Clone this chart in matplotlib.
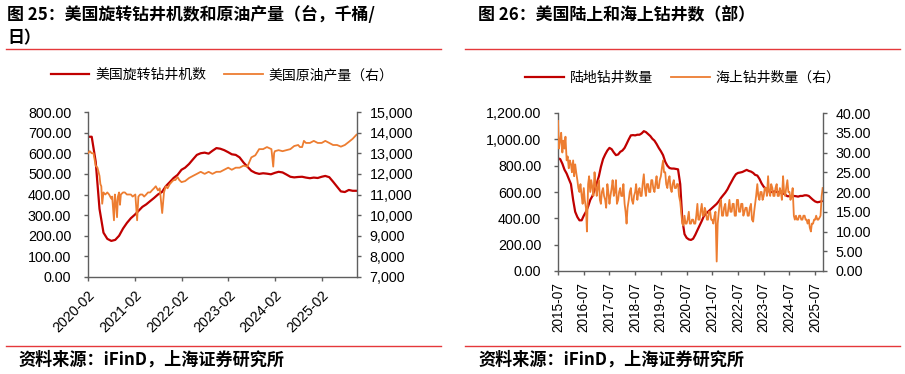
import pandas as pd
import matplotlib
matplotlib.use('Agg')
import matplotlib.pyplot as plt
from matplotlib.lines import Line2D
from matplotlib.ticker import FuncFormatter, MultipleLocator

plt.rcParams['font.family'] = ['Noto Sans CJK SC', 'DejaVu Sans']

# ---------------- Left chart data ----------------
rig_months = pd.date_range('2020-02-01', '2025-11-01', freq='MS')
rig_count = [
    680, 680, 560, 330, 215, 185, 175, 180, 200, 235, 262,            # 2020 Feb-Dec
    285, 302, 320, 340, 352, 368, 383, 400, 412, 440, 460, 480,       # 2021
    495, 520, 530, 548, 570, 592, 600, 603, 598, 612, 625, 622,       # 2022
    615, 605, 595, 592, 580, 555, 535, 515, 505, 500, 503, 501,       # 2023
    498, 505, 510, 507, 497, 486, 483, 485, 486, 482, 479, 482,       # 2024
    480, 486, 490, 484, 462, 438, 415, 412, 422, 418, 418,            # 2025 Jan-Nov
]

oil_dates = pd.to_datetime([
    '2020-02-01', '2020-02-15', '2020-03-01', '2020-03-15', '2020-04-01', '2020-04-15',
    '2020-05-01', '2020-05-08', '2020-05-15', '2020-05-22', '2020-06-01', '2020-06-15',
    '2020-07-01', '2020-07-15', '2020-08-01', '2020-08-08', '2020-08-22', '2020-08-29',
    '2020-09-05', '2020-09-15', '2020-09-22', '2020-10-01', '2020-10-08', '2020-10-15',
    '2020-11-01', '2020-11-15', '2020-12-01', '2020-12-15', '2021-01-01', '2021-01-15',
    '2021-02-05', '2021-02-19', '2021-03-01', '2021-03-15', '2021-04-01', '2021-04-15',
    '2021-05-01', '2021-05-15', '2021-06-01', '2021-06-15', '2021-07-01', '2021-07-15',
    '2021-08-01', '2021-08-15', '2021-09-03', '2021-09-10', '2021-09-17', '2021-10-01',
    '2021-10-15', '2021-11-01', '2021-11-15', '2021-12-01', '2021-12-15', '2022-01-01',
    '2022-01-15', '2022-02-01', '2022-03-01', '2022-04-01', '2022-05-01', '2022-06-01',
    '2022-07-01', '2022-08-01', '2022-09-01', '2022-10-01', '2022-11-01', '2022-12-01',
    '2023-01-01', '2023-02-01', '2023-03-01', '2023-04-01', '2023-05-01', '2023-06-01',
    '2023-07-01', '2023-08-01', '2023-09-01', '2023-10-01', '2023-11-01', '2023-12-01',
    '2024-01-05', '2024-01-19', '2024-01-26', '2024-02-01', '2024-03-01', '2024-04-01',
    '2024-05-01', '2024-06-01', '2024-07-01', '2024-08-01', '2024-08-15', '2024-09-01',
    '2024-09-15', '2024-10-01', '2024-11-01', '2024-12-01', '2025-01-01', '2025-02-01',
    '2025-03-01', '2025-04-01', '2025-05-01', '2025-06-01', '2025-07-01', '2025-08-01',
    '2025-09-01', '2025-10-01', '2025-10-31',
])
oil_prod = [
    13000, 13100, 13000, 13000, 12400, 12300,
    11900, 11500, 11400, 10550, 11100, 11000,
    11100, 11000, 10800, 10900, 9750, 11000,
    10700, 9900, 10900, 11100, 10500, 11000,
    11100, 11100, 11000, 11000, 11000, 10900,
    11000, 9750, 10900, 11000, 11000, 10900,
    11000, 11100, 11100, 11200, 11300, 11400,
    11200, 11300, 10100, 10600, 11100, 11400,
    11300, 11500, 11600, 11700, 11700, 11850,
    11700, 11600, 11650, 11800, 11900, 12000,
    12100, 12000, 12100, 12000, 12100, 12100,
    12200, 12300, 12200, 12300, 12300, 12400,
    12350, 12800, 12900, 13200, 13200, 13300,
    13200, 12350, 13000, 13100, 13150, 13100,
    13150, 13200, 13350, 13400, 13300, 13300,
    13600, 13500, 13500, 13600, 13500, 13500,
    13600, 13500, 13400, 13400, 13320, 13400,
    13550, 13700, 13900,
]

left_ticks = ['2020-02', '2021-02', '2022-02', '2023-02', '2024-02', '2025-02']

# ---------------- Right chart data ----------------
rig_months_r = pd.date_range('2015-07-01', '2025-10-01', freq='MS')
land_rigs = [
    856, 850, 815, 770, 740, 700,                                     # 2015 Jul-Dec
    660, 540, 450, 410, 385, 385, 420, 450, 490, 540, 570, 615,       # 2016
    665, 720, 790, 850, 885, 915, 935, 925, 900, 880, 885, 905,       # 2017
    915, 935, 965, 1000, 1030, 1032, 1030, 1035, 1035, 1045, 1062, 1055,  # 2018
    1040, 1025, 1005, 990, 965, 935, 910, 880, 830, 800, 782, 778,    # 2019
    778, 775, 772, 660, 390, 280, 252, 240, 236, 245, 275, 310,       # 2020
    345, 380, 415, 435, 450, 465, 480, 495, 510, 530, 555, 575,       # 2021
    595, 620, 650, 680, 710, 735, 745, 748, 752, 760, 768, 760,       # 2022
    755, 745, 730, 725, 700, 665, 640, 625, 610, 600, 600, 605,       # 2023
    600, 600, 595, 590, 580, 568, 568, 570, 570, 568, 565, 570,       # 2024
    570, 575, 575, 570, 555, 540, 528, 522, 525, 530,                 # 2025 Jan-Oct
]

# offshore rigs, read twice a month (1st and 15th)
offshore_dates = pd.date_range('2015-07-01', '2025-10-15', freq='SMS')
offshore_rigs = [
    38, 31, 33, 35, 30, 33, 31, 34, 28, 29, 26, 28,                                   # 2015 H2
    27, 25, 28, 24, 27, 25, 23, 21, 20, 22, 19, 17, 21, 18, 16, 10, 22, 24, 20, 23, 21, 19, 25, 22,  # 2016
    19, 21, 23, 18, 17, 20, 21, 19, 18, 16, 22, 20, 17, 19, 21, 23, 19, 20, 23, 17, 18, 20, 21, 19,  # 2017
    19, 22, 17, 15, 12, 16, 18, 20, 21, 18, 17, 19, 20, 22, 18, 20, 21, 19, 19, 22, 24.5, 21, 19, 22,  # 2018
    22, 20, 20, 23, 23, 21, 20, 22, 24, 21, 21, 23, 24, 26, 28, 25, 25, 22, 21, 23, 24, 21, 20, 22,  # 2019
    23, 21, 21, 22, 22, 19, 17.5, 15, 12, 11.5, 14, 12, 12, 13, 15, 12, 12, 13, 13, 12, 12, 14, 17, 13,  # 2020
    13, 15, 17, 14, 14, 16, 15, 13, 13, 15, 15, 13, 13, 12, 14, 15, 2.4, 12, 15, 17, 18, 14, 14, 16,  # 2021
    17, 14, 14, 16, 18, 15, 15, 17, 17, 14, 14, 18, 18, 15, 15, 17, 17, 14, 15, 16, 16, 14, 14, 16,  # 2022
    17, 13, 12.5, 15, 17, 19, 22, 19, 18, 20, 20, 18, 19, 21, 21, 19, 24, 20, 19, 22, 21, 19, 19, 21,  # 2023
    22, 19, 19, 21, 20, 18, 24, 20, 19, 21, 23, 20, 20, 18, 19, 21, 14, 13, 14, 13, 13, 14, 14, 13,  # 2024
    13, 14, 14, 13, 13, 12, 13, 11, 10, 12, 12, 13, 13, 14, 13, 13, 13.5, 14, 19, 21,  # 2025 Jan-Oct
]
right_ticks = ['2015-07', '2016-07', '2017-07', '2018-07', '2019-07', '2020-07',
               '2021-07', '2022-07', '2023-07', '2024-07', '2025-07']

# ---------------- Styling ----------------
RED = '#C00000'
ORANGE = '#ED7D31'
SEP = '#E5383B'
SPINE = '#5F5F5F'
NUM_FONT = 'Liberation Sans'

fig = plt.figure(figsize=(9.05, 3.74), dpi=100)
W, H = 905, 374


def fx(px):
    return px / W


def fy(py):
    return 1 - py / H


def style_axes(ax, twin):
    ax.spines['top'].set_visible(False)
    twin.spines['top'].set_visible(False)
    for a in (ax, twin):
        for s in ['left', 'right', 'bottom']:
            a.spines[s].set_color(SPINE)
            a.spines[s].set_linewidth(1.0)
    ax.spines['right'].set_visible(False)
    twin.spines['left'].set_visible(False)
    twin.spines['bottom'].set_visible(False)
    ax.tick_params(axis='both', direction='out', length=3, width=1, color=SPINE,
                   labelsize=10.3, labelcolor='black')
    twin.tick_params(axis='y', direction='out', length=3, width=1, color=SPINE,
                     labelsize=10.3, labelcolor='black')
    for lab in ax.get_xticklabels() + ax.get_yticklabels() + twin.get_yticklabels():
        lab.set_fontfamily(NUM_FONT)


# ---- Left chart ----
axL = fig.add_axes([fx(88), fy(277), fx(357 - 88), (277 - 112) / H])
axL2 = axL.twinx()
l1, = axL.plot(rig_months, rig_count, color=RED, lw=1.6, label='美国旋转钻井机数')
l2, = axL2.plot(oil_dates, oil_prod, color=ORANGE, lw=1.3, label='美国原油产量（右）')
axL.set_ylim(0, 800)
axL.yaxis.set_major_locator(MultipleLocator(100))
axL.yaxis.set_major_formatter(FuncFormatter(lambda v, p: f'{v:.2f}'))
axL2.set_ylim(7000, 15000)
axL2.yaxis.set_major_locator(MultipleLocator(1000))
axL2.yaxis.set_major_formatter(FuncFormatter(lambda v, p: f'{v:,.0f}'))
axL.set_xlim(pd.Timestamp('2020-02-01'), pd.Timestamp('2025-11-04'))
axL.set_xticks(pd.to_datetime(left_ticks))
axL.set_xticklabels(left_ticks, rotation=45, ha='right', rotation_mode='anchor')
axL.tick_params(axis='x', pad=5)
axL.tick_params(axis='y', pad=9)
axL2.tick_params(axis='y', pad=6)
style_axes(axL, axL2)

fig.legend(handles=[l1, l2], loc='center', bbox_to_anchor=(fx(222), fy(75)),
           ncol=2, frameon=False, fontsize=10, handlelength=2.8, handletextpad=0.4,
           columnspacing=1.3)

# ---- Right chart ----
axR = fig.add_axes([fx(558), fy(271), fx(823 - 558), (271 - 113) / H])
axR2 = axR.twinx()
r1, = axR.plot(rig_months_r, land_rigs, color=RED, lw=1.6, label='陆地钻井数量')
r2, = axR2.plot(offshore_dates, offshore_rigs, color=ORANGE, lw=1.3, label='海上钻井数量（右）')
axR.set_ylim(0, 1200)
axR.yaxis.set_major_locator(MultipleLocator(200))
axR.yaxis.set_major_formatter(FuncFormatter(lambda v, p: f'{v:,.2f}'))
axR2.set_ylim(0, 40)
axR2.yaxis.set_major_locator(MultipleLocator(5))
axR2.yaxis.set_major_formatter(FuncFormatter(lambda v, p: f'{v:.2f}'))
axR.set_xlim(pd.Timestamp('2015-07-01'), pd.Timestamp('2025-10-20'))
axR.set_xticks(pd.to_datetime(right_ticks))
axR.set_xticklabels(right_ticks, rotation=90, ha='center', va='top')
axR.tick_params(axis='x', pad=5)
axR.tick_params(axis='y', pad=9)
axR2.tick_params(axis='y', pad=6)
style_axes(axR, axR2)
for lab in axR.get_xticklabels():
    lab.set_fontsize(9.8)

fig.legend(handles=[r1, r2], loc='center', bbox_to_anchor=(fx(683), fy(78)),
           ncol=2, frameon=False, fontsize=10, handlelength=2.8, handletextpad=0.4,
           columnspacing=1.3)

# ---- Titles, separators, sources ----
fig.text(fx(7), fy(15), '图 25：美国旋转钻井机数和原油产量（台，千桶/', fontsize=12.2,
         fontweight='bold', va='center', ha='left')
fig.text(fx(7), fy(38), '日）', fontsize=12.2, fontweight='bold', va='center', ha='left')
fig.text(fx(478), fy(15), '图 26：美国陆上和海上钻井数（部）', fontsize=12.2,
         fontweight='bold', va='center', ha='left')

for x0, x1 in [(6, 441), (465, 900)]:
    for yy in (49, 346):
        fig.add_artist(Line2D([fx(x0), fx(x1)], [fy(yy), fy(yy)], color=SEP, lw=1.0,
                              transform=fig.transFigure))

fig.text(fx(18), fy(360), '资料来源：iFinD，上海证券研究所', fontsize=12.3,
         fontweight='bold', style='italic', va='center', ha='left')
fig.text(fx(478), fy(360), '资料来源：iFinD，上海证券研究所', fontsize=12.3,
         fontweight='bold', style='italic', va='center', ha='left')

fig.savefig('out.png', dpi=100)
